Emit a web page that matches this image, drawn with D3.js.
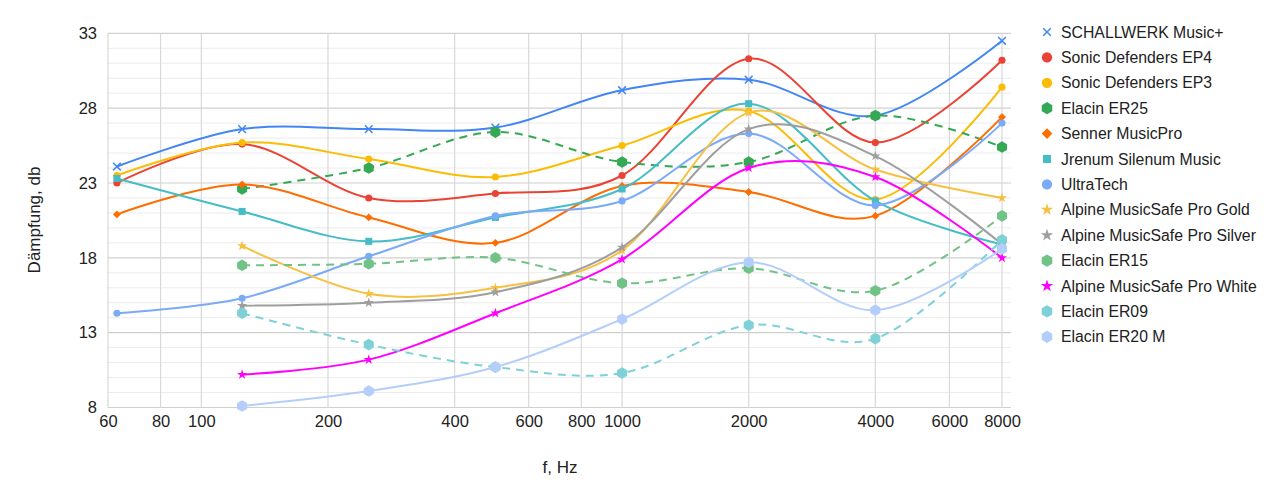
<!DOCTYPE html>
<html>
<head>
<meta charset="utf-8">
<script src="https://cdn.jsdelivr.net/npm/d3@7"></script>
<style>
  body { margin: 0; background: #fff; }
  text { font-family: Arial, "Liberation Sans", sans-serif; fill: #222; }
</style>
</head>
<body>
<div id="chart"></div>
<script>
// frequencies (Hz) and attenuation values (dB)
const freqs = [63, 125, 250, 500, 1000, 2000, 4000, 8000];
const xTicks = [60, 80, 100, 200, 400, 600, 800, 1000, 2000, 4000, 6000, 8000];
const yTicks = [8, 13, 18, 23, 28, 33];

const schallwerk = [24.1, 26.6, 26.6, 26.7, 29.2, 29.9, 27.5, 32.5];
const ep4        = [23.0, 25.6, 22.0, 22.3, 23.5, 31.3, 25.7, 31.2];
const ep3        = [23.5, 25.7, 24.6, 23.4, 25.5, 27.8, 21.9, 29.4];
const er25       = [null, 22.6, 24.0, 26.4, 24.4, 24.4, 27.5, 25.4];
const senner     = [20.9, 22.9, 20.7, 19.0, 22.8, 22.4, 20.8, 27.4];
const jrenum     = [23.3, 21.1, 19.1, 20.7, 22.6, 28.3, 21.8, 18.9];
const ultratech  = [14.3, 15.3, 18.1, 20.8, 21.8, 26.3, 21.5, 27.0];
const gold       = [null, 18.8, 15.6, 16.0, 18.5, 27.7, 23.9, 22.0];
const silver     = [null, 14.8, 15.0, 15.7, 18.7, 26.6, 24.8, 18.9];
const er15       = [null, 17.5, 17.6, 18.0, 16.3, 17.3, 15.8, 20.8];
const white      = [null, 10.2, 11.2, 14.3, 17.9, 24.0, 23.4, 18.0];
const er09       = [null, 14.3, 12.2, 10.7, 10.3, 13.5, 12.6, 19.2];
const er20m      = [null, 8.1, 9.1, 10.7, 13.9, 17.7, 14.5, 18.6];

const seriesNames = ['SCHALLWERK Music+', 'Sonic Defenders EP4', 'Sonic Defenders EP3', 'Elacin ER25',
  'Senner MusicPro', 'Jrenum Silenum Music', 'UltraTech', 'Alpine MusicSafe Pro Gold',
  'Alpine MusicSafe Pro Silver', 'Elacin ER15', 'Alpine MusicSafe Pro White', 'Elacin ER09', 'Elacin ER20 M'];
const seriesValues = [schallwerk, ep4, ep3, er25, senner, jrenum, ultratech, gold, silver, er15, white, er09, er20m];

// styling per series
const colors = ['#4285f4', '#ea4335', '#fbbc04', '#34a853', '#ff6d01', '#46bdc6', '#7baaf7',
  '#f6c142', '#9e9e9e', '#71c287', '#ff00ff', '#7ed1d7', '#b3cefb'];
const shapes = ['x', 'circle', 'circle', 'hex', 'diamond', 'square', 'circle', 'star', 'star', 'hex', 'star', 'hex', 'hex'];
const dashed = [false, false, false, true, false, false, false, false, false, true, false, true, false];
const big = [false, false, false, true, false, false, false, false, false, true, false, true, true];

const series = seriesNames.map((name, i) => ({
  name, color: colors[i], shape: shapes[i], dashed: dashed[i], big: big[i],
  points: freqs.map((f, j) => ({ f, v: seriesValues[i][j] })).filter(p => p.v !== null)
}));

const width = 1280, height = 501;
const plot = { left: 108, right: 1011, top: 33.3, bottom: 407.5 };

const svg = d3.select('#chart').append('svg')
  .attr('width', width)
  .attr('height', height);

const x = d3.scaleLog().domain([60, 8000]).range([108, 1002]);
const y = d3.scaleLinear().domain([8, 33]).range([plot.bottom, plot.top]);

// minor horizontal gridlines every 1 dB
svg.append('g').selectAll('line')
  .data(d3.range(9, 33).filter(v => (v - 8) % 5 !== 0))
  .enter().append('line')
  .attr('x1', plot.left).attr('x2', plot.right)
  .attr('y1', d => y(d)).attr('y2', d => y(d))
  .attr('stroke', '#ececec').attr('stroke-width', 1);

// major horizontal gridlines
svg.append('g').selectAll('line')
  .data(yTicks)
  .enter().append('line')
  .attr('x1', plot.left).attr('x2', plot.right)
  .attr('y1', d => y(d)).attr('y2', d => y(d))
  .attr('stroke', '#d0d0d0').attr('stroke-width', 1.2);

// vertical gridlines
svg.append('g').selectAll('line')
  .data(xTicks)
  .enter().append('line')
  .attr('x1', d => x(d)).attr('x2', d => x(d))
  .attr('y1', plot.top).attr('y2', plot.bottom)
  .attr('stroke', '#d8d8d8').attr('stroke-width', 1.2);

// axes (labels only)
const xAxis = svg.append('g')
  .attr('transform', `translate(0, ${plot.bottom})`)
  .call(d3.axisBottom(x).tickValues(xTicks).tickFormat(d3.format('d')).tickSize(0).tickPadding(8));
const yAxis = svg.append('g')
  .attr('transform', `translate(${plot.left}, 0)`)
  .call(d3.axisLeft(y).tickValues(yTicks).tickSize(0).tickPadding(11));
[xAxis, yAxis].forEach(a => {
  a.select('.domain').remove();
  a.selectAll('text').style('font-size', '16.5px').attr('fill', '#222')
    .style('font-family', 'Arial, "Liberation Sans", sans-serif');
});

// axis titles
svg.append('text')
  .attr('x', 560).attr('y', 473)
  .attr('text-anchor', 'middle')
  .style('font-size', '17px')
  .text('f, Hz');
svg.append('text')
  .attr('transform', `translate(40, 220) rotate(-90)`)
  .attr('text-anchor', 'middle')
  .style('font-size', '17px')
  .text('Dämpfung, db');

// marker paths
function hexPath(r) {
  const pts = d3.range(6).map(k => {
    const a = (-90 + 60 * k) * Math.PI / 180;
    return [r * Math.cos(a), r * Math.sin(a)];
  });
  return 'M' + pts.map(p => p.join(',')).join('L') + 'Z';
}
function markerPath(shape, scale) {
  switch (shape) {
    case 'circle': return d3.symbol(d3.symbolCircle, 40 * scale)();
    case 'square': return d3.symbol(d3.symbolSquare, 50 * scale)();
    case 'diamond': return d3.symbol(d3.symbolDiamond2, 40 * scale)();
    case 'star': return d3.symbol(d3.symbolStar, 32 * scale)();
    case 'hex': return hexPath(4.2 * Math.sqrt(scale));
    case 'x': return d3.symbol(d3.symbolTimes, 40 * scale)();
  }
}

const line = d3.line()
  .x(d => x(d.f))
  .y(d => y(d.v))
  .curve(d3.curveCatmullRom.alpha(0));

const groups = svg.append('g').selectAll('g')
  .data(series)
  .enter().append('g');

groups.append('path')
  .attr('d', d => line(d.points))
  .attr('fill', 'none')
  .attr('stroke', d => d.color)
  .attr('stroke-width', 2)
  .attr('stroke-dasharray', d => d.dashed ? '8,6' : null);

groups.each(function (s) {
  const sc = s.big ? 1.9 : 1;
  d3.select(this).selectAll('path.pt')
    .data(s.points)
    .enter().append('path')
    .attr('class', 'pt')
    .attr('transform', d => `translate(${x(d.f)}, ${y(d.v)})`)
    .attr('d', markerPath(s.shape, sc))
    .attr('fill', s.shape === 'x' ? 'none' : s.color)
    .attr('stroke', s.shape === 'x' ? s.color : 'none')
    .attr('stroke-width', 1.5);
});

// legend
const legendScale = { x: 1, circle: 2.1, hex: 2.1, diamond: 1.8, square: 1.3, star: 1.5 };
const legend = svg.append('g').selectAll('g')
  .data(series)
  .enter().append('g')
  .attr('transform', (d, i) => `translate(1047, ${32 + i * 25.4})`);

legend.append('path')
  .attr('d', d => markerPath(d.shape, legendScale[d.shape]))
  .attr('fill', d => d.shape === 'x' ? 'none' : d.color)
  .attr('stroke', d => d.shape === 'x' ? d.color : 'none')
  .attr('stroke-width', 1.5);

legend.append('text')
  .attr('x', 14).attr('dy', '0.35em')
  .style('font-size', '15.8px')
  .text(d => d.name);
</script>
</body>
</html>
